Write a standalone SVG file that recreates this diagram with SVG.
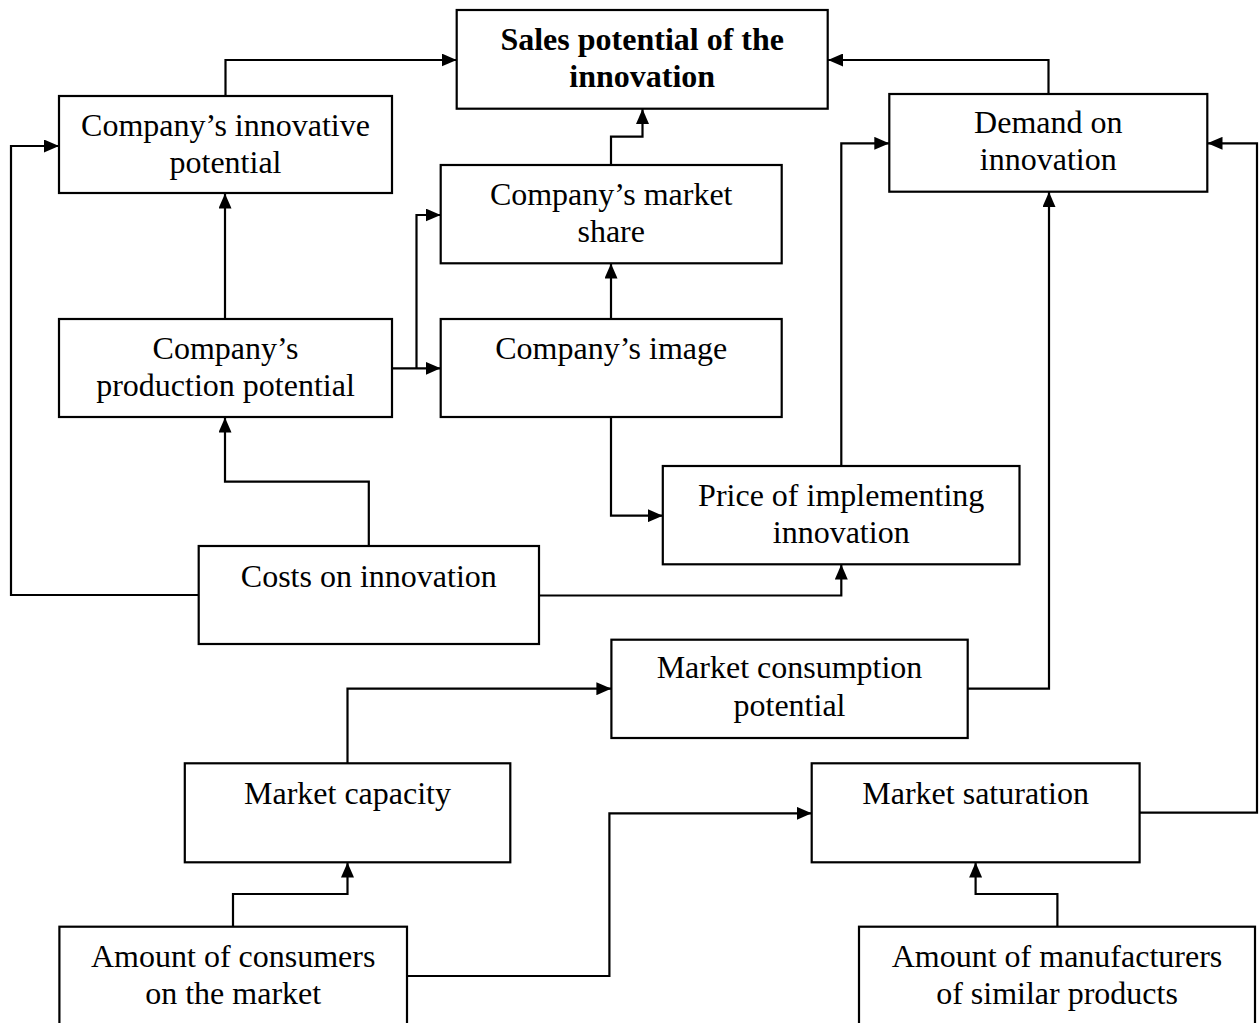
<svg xmlns="http://www.w3.org/2000/svg" width="1259" height="1023" viewBox="0 0 1259 1023">
<style>
.box{fill:#fff;stroke:#000;stroke-width:2.2}
.t{font-family:"Liberation Serif","Times New Roman",serif;font-size:32px;fill:#000;text-anchor:middle}
.b{font-weight:bold}
.c{fill:none;stroke:#000;stroke-width:2.2;marker-end:url(#ah)}
</style>
<defs>
<marker id="ah" viewBox="0 0 15 13" refX="15" refY="6.5" markerWidth="15" markerHeight="13" markerUnits="userSpaceOnUse" orient="auto">
<path d="M0,0 L15,6.5 L0,13 z" fill="#000"/>
</marker>
</defs>
<rect width="1259" height="1023" fill="#fff"/>
<g id="connectors">
<path class="c" d="M225.5,96 V60 H456.7"/>
<path class="c" d="M1048.5,94 V60 H828"/>
<path class="c" d="M611,165 V136.7 H642.5 V109"/>
<path class="c" d="M225,319 V193.5"/>
<path class="c" d="M392,368.3 H440.6"/>
<path class="c" d="M416.5,368.3 V215 H440.7"/>
<path class="c" d="M611,319 V263.5"/>
<path class="c" d="M368.8,546 V481.7 H225 V417.5"/>
<path class="c" d="M198.7,595 H11 V146 H59"/>
<path class="c" d="M539,595.5 H841.3 V564.5"/>
<path class="c" d="M611,417 V515.7 H662.8"/>
<path class="c" d="M841.3,466 V143.3 H889.3"/>
<path class="c" d="M967.7,688.7 H1049 V192"/>
<path class="c" d="M347.5,763.3 V688.7 H611.4"/>
<path class="c" d="M233,926.7 V894 H347.5 V862.5"/>
<path class="c" d="M407,976 H609.4 V813.3 H811.7"/>
<path class="c" d="M1057.4,926.7 V894 H975.6 V862.5"/>
<path class="c" d="M1139.6,812.7 H1257 V143.3 H1207.5"/>
</g>
<g id="n-sales">
<rect class="box" x="456.7" y="10" width="371" height="98.7"/>
<text class="t b" x="642.2" y="50">Sales potential of the</text>
<text class="t b" x="642.2" y="87">innovation</text>
</g>
<g id="n-innovative">
<rect class="box" x="59" y="96" width="333" height="97"/>
<text class="t" x="225.5" y="135.7">Company’s innovative</text>
<text class="t" x="225.5" y="173">potential</text>
</g>
<g id="n-demand">
<rect class="box" x="889.3" y="94" width="318" height="97.7"/>
<text class="t" x="1048.3" y="132.7">Demand on</text>
<text class="t" x="1048.3" y="170">innovation</text>
</g>
<g id="n-share">
<rect class="box" x="440.7" y="165" width="341" height="98.3"/>
<text class="t" x="611.2" y="205">Company’s market</text>
<text class="t" x="611.2" y="241.7">share</text>
</g>
<g id="n-production">
<rect class="box" x="59" y="319" width="333" height="98"/>
<text class="t" x="225.5" y="359">Company’s</text>
<text class="t" x="225.5" y="396">production potential</text>
</g>
<g id="n-image">
<rect class="box" x="440.7" y="319" width="341" height="98"/>
<text class="t" x="611.2" y="359">Company’s image</text>
</g>
<g id="n-price">
<rect class="box" x="662.8" y="466" width="356.7" height="98.3"/>
<text class="t" x="841.2" y="506">Price of implementing</text>
<text class="t" x="841.2" y="543.3">innovation</text>
</g>
<g id="n-costs">
<rect class="box" x="198.7" y="546" width="340.3" height="98"/>
<text class="t" x="368.8" y="586.7">Costs on innovation</text>
</g>
<g id="n-consumption">
<rect class="box" x="611.4" y="639.7" width="356.3" height="98.3"/>
<text class="t" x="789.5" y="678.3">Market consumption</text>
<text class="t" x="789.5" y="716">potential</text>
</g>
<g id="n-capacity">
<rect class="box" x="184.8" y="763.3" width="325.5" height="99"/>
<text class="t" x="347.5" y="804">Market capacity</text>
</g>
<g id="n-saturation">
<rect class="box" x="811.7" y="763.3" width="327.9" height="99"/>
<text class="t" x="975.6" y="804">Market saturation</text>
</g>
<g id="n-consumers">
<rect class="box" x="59.4" y="926.7" width="347.6" height="110"/>
<text class="t" x="233.2" y="966.7">Amount of consumers</text>
<text class="t" x="233.2" y="1004">on the market</text>
</g>
<g id="n-manufacturers">
<rect class="box" x="859" y="926.7" width="396" height="110"/>
<text class="t" x="1057" y="966.7">Amount of manufacturers</text>
<text class="t" x="1057" y="1004">of similar products</text>
</g>
</svg>
